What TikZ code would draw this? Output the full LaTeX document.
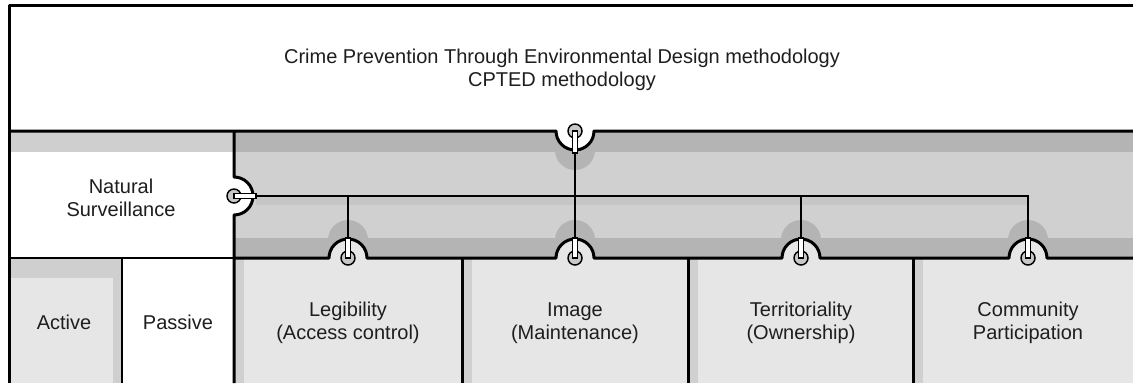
\documentclass[tikz,border=0pt]{standalone}
\usepackage{fontspec}
\setmainfont{Liberation Sans}
\definecolor{darkband}{HTML}{B4B4B4}
\definecolor{midband}{HTML}{D0D0D0}
\definecolor{lineshadow}{HTML}{C6C6C6}
\definecolor{boxfill}{HTML}{E6E6E6}
\definecolor{strip}{HTML}{CFCFCF}
\definecolor{pinfill}{HTML}{C8C8C8}
\definecolor{txt}{HTML}{1E1E1E}
\begin{document}
\begin{tikzpicture}[x=0.75pt,y=-0.75pt,
  heavy/.style={line width=2.25pt,line join=round},
  light/.style={line width=1.5pt},
  conn/.style={line width=1.4pt},
  pinhead/.style={fill=pinfill,draw=black,line width=1.1pt},
  pinstick/.style={fill=white,draw=black,line width=0.8pt},
  lbl/.style={align=center,text=txt,font=\fontsize{15}{17.5}\selectfont,inner sep=0pt}]
\useasboundingbox (0,0) rectangle (1133,383);
\fill[white] (0,0) rectangle (1133,383);
% middle band
\fill[strip] (9,131) rectangle (234,152);
\fill[midband] (234,131) rectangle (1133,258);
\fill[darkband] (234,131) rectangle (1133,152);
\fill[darkband] (234,238) rectangle (1133,258);
% pin anchor coordinates
\coordinate (pT) at (575,153);
\coordinate (pN) at (256,196);
\coordinate (pL) at (348,238);
\coordinate (pI) at (575,238);
\coordinate (pR) at (801,238);
\coordinate (pC) at (1028,238);
% shadows
\fill[lineshadow] (256,197) rectangle (1028,205);
\fill[darkband] (575,150) circle (20);
\foreach \x in {348,575,801,1028}{\fill[darkband] (\x,240) circle (20);}
% bottom row
\fill[boxfill] (9,258) rectangle (122,383);
\fill[strip] (9,258) rectangle (122,278);
\fill[strip] (113,258) rectangle (122,383);
\foreach \a/\b in {234/462,462/688,688/913,913/1133}{
  \fill[boxfill] (\a,258) rectangle (\b,383);
  \fill[midband] (\a,258) rectangle (\a+10,383);}
% notches
\fill[white] (556,131) arc[start angle=180,end angle=0,radius=19] -- cycle;
\fill[white] (234,177) arc[start angle=-90,end angle=90,radius=19] -- cycle;
\foreach \x in {348,575,801,1028}{
  \fill[boxfill] (\x-19,258) arc[start angle=180,end angle=360,radius=19] -- cycle;}
% frame lines
\draw[heavy] (9,383) -- (9,5) -- (1133,5);
\draw[heavy] (9,131) -- (556,131) arc[start angle=180,end angle=0,radius=19] -- (1133,131);
\draw[heavy] (234,131) -- (234,177) arc[start angle=-90,end angle=90,radius=19] -- (234,383);
\draw[heavy] (234,258) -- (329,258) arc[start angle=180,end angle=360,radius=19]
  -- (556,258) arc[start angle=180,end angle=360,radius=19]
  -- (782,258) arc[start angle=180,end angle=360,radius=19]
  -- (1009,258) arc[start angle=180,end angle=360,radius=19] -- (1133,258);
\draw[light] (9,258) -- (234,258);
\draw[light] (122,258) -- (122,383);
\foreach \x in {462,688,913}{\draw[heavy] (\x,258) -- (\x,383);}
% connectors
\draw[conn] (pN) -| (pC);
\draw[conn] (pT) -- (pI);
\draw[conn] (pL) -- (pL |- pN);
\draw[conn] (pR) -- (pR |- pN);
% pins
\draw[pinhead] (575,131) circle (7);
\draw[pinstick] (572.5,131) rectangle ([xshift=1.875pt]pT);
\draw[pinhead] (234,196) circle (7);
\draw[pinstick] (234,193.5) rectangle ([yshift=-1.875pt]pN);
\foreach \x in {348,575,801,1028}{
  \draw[pinhead] (\x,258) circle (7);
  \draw[pinstick] (\x-2.5,238) rectangle (\x+2.5,258);}
% labels
\node[lbl] (title) at (562,70) {Crime Prevention Through Environmental Design methodology\\CPTED methodology};
\node[lbl] (ns) at (121,198) {Natural\\Surveillance};
\node[lbl] (active) at (64,322) {Active};
\node[lbl] (passive) at (178,322) {Passive};
\node[lbl] (leg) at (348,323) {Legibility\\(Access control)};
\node[lbl] (img) at (575,323) {Image\\(Maintenance)};
\node[lbl] (terr) at (801,323) {Territoriality\\(Ownership)};
\node[lbl] (comm) at (1028,323) {Community\\Participation};
\end{tikzpicture}
\end{document}
